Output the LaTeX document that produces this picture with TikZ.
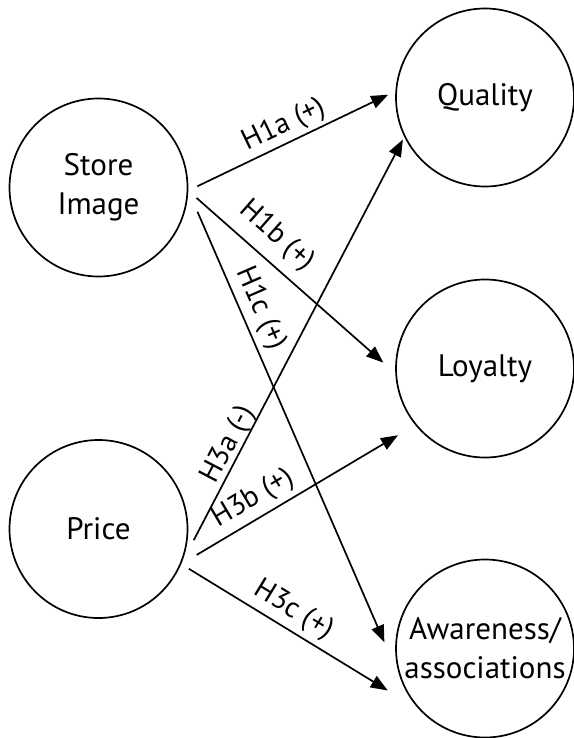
\documentclass[tikz,border=0pt]{standalone}
\usepackage{fontspec}
\setmainfont{PT Sans}
\usetikzlibrary{arrows.meta}
\tikzset{
  construct/.style={circle, draw, line width=1.7pt, minimum size=178pt, inner sep=0pt,
    align=center, font=\fontsize{31}{39}\selectfont},
  hyp/.style={line width=1.7pt, -{Triangle[length=17pt,width=13pt]}},
  hyplabel/.style={sloped, inner sep=0pt, font=\fontsize{29}{34}\selectfont}
}
\begin{document}
\begin{tikzpicture}[x=1pt,y=-1pt]
\useasboundingbox (0,0) rectangle (573,738);
% draw constructs
\node[construct] (store) at (98.5,187.5) {Store\\Image};
\node[construct] (price) at (98.5,529) {Price};
\node[construct] (quality) at (485,97.5) {Quality};
\node[construct] (loyalty) at (485,368.5) {Loyalty};
\node[construct] (aware) at (485,648.5) {Awareness/\\associations};
% draw hypotheses from store image
\draw[hyp, shorten <=10pt, shorten >=8pt] (store.-2.3) -- node[hyplabel, pos=0.5, above=3pt] {H1a (+)} (quality.176.2);
\draw[hyp, shorten <=11pt, shorten >=16pt] (store.-2.3) -- node[hyplabel, pos=0.35, above=10pt] {H1b (+)} (loyalty.183.4);
\draw[hyp, shorten <=23pt, shorten >=45pt] (store.-2.3) -- node[hyplabel, pos=0.255, above=5pt] {H1c (+)} (aware.203.6);
% draw hypotheses from price
\draw[hyp, shorten <=27pt, shorten >=3pt] (price.-23.7) -- node[hyplabel, pos=0.265, above=-1pt] {H3a (-)} (quality.206.8);
\draw[hyp, shorten <=18pt, shorten >=20pt] (price.-23.7) -- node[hyplabel, pos=0.35, above=5pt] {H3b (+)} (loyalty.219.7);
\draw[hyp, shorten <=9pt, shorten >=37pt] (price.-23.7) -- node[hyplabel, pos=0.43, above=5pt] {H3c (+)} (aware.223);
\end{tikzpicture}
\end{document}
